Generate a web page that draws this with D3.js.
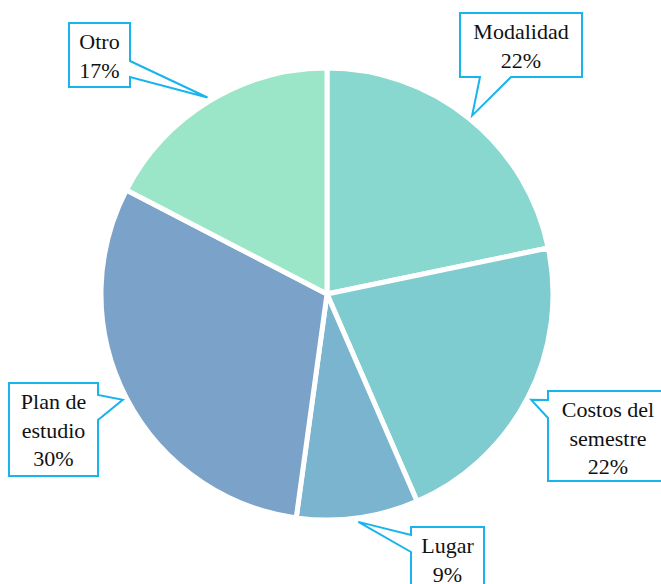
<!DOCTYPE html>
<html>
<head>
<meta charset="utf-8">
<script src="https://cdn.jsdelivr.net/npm/d3@7"></script>
</head>
<body style="margin:0">
<svg id="chart" width="661" height="584"></svg>
<script>
// data
const categories = ["Modalidad", "Costos del semestre", "Lugar", "Plan de estudio", "Otro"];
const counts = [5, 5, 2, 7, 4];
const labelLines = [["Modalidad"], ["Costos del", "semestre"], ["Lugar"], ["Plan de", "estudio"], ["Otro"]];
const colors = ["#88d8cf", "#7ecbd0", "#7bb4cf", "#7ba2c8", "#9be6c8"];

// callout layout: box and which side the pointer leaves from
const callouts = [
  { x: 460, y: 13, w: 122, h: 64, side: "bottom", a: [480, 511] },
  { x: 548, y: 391, w: 120, h: 90, side: "left", a: [400, 418] },
  { x: 411, y: 527, w: 73, h: 70, side: "left", a: [535, 552] },
  { x: 9, y: 383, w: 89, h: 93, side: "right", a: [395, 420] },
  { x: 69, y: 23, w: 61, h: 64, side: "right", a: [61, 77] }
];

const cx = 327, cy = 294, radius = 226;

const svg = d3.select("#chart");

const total = d3.sum(counts);
const pie = d3.pie().sort(null).value(d => d)(counts);

const arc = d3.arc().innerRadius(0).outerRadius(radius);
const tipArc = d3.arc().innerRadius(radius + 4).outerRadius(radius + 4);

const g = svg.append("g").attr("transform", `translate(${cx},${cy})`);

g.selectAll("path")
  .data(pie)
  .join("path")
  .attr("d", arc)
  .attr("fill", (d, i) => colors[i])
  .attr("stroke", "#fff")
  .attr("stroke-width", 5)
  .attr("stroke-linejoin", "round");

// callout shape: rectangle with a notch that points to the slice
function calloutPath(c, tip) {
  const x0 = c.x, y0 = c.y, x1 = c.x + c.w, y1 = c.y + c.h;
  const p = d3.path();
  p.moveTo(x0, y0);
  if (c.side === "bottom") {
    p.lineTo(x1, y0); p.lineTo(x1, y1);
    p.lineTo(c.a[1], y1); p.lineTo(tip[0], tip[1]); p.lineTo(c.a[0], y1);
    p.lineTo(x0, y1);
  } else if (c.side === "right") {
    p.lineTo(x1, y0); p.lineTo(x1, c.a[0]);
    p.lineTo(tip[0], tip[1]); p.lineTo(x1, c.a[1]);
    p.lineTo(x1, y1); p.lineTo(x0, y1);
  } else {
    p.lineTo(x1, y0); p.lineTo(x1, y1); p.lineTo(x0, y1);
    p.lineTo(x0, c.a[1]); p.lineTo(tip[0], tip[1]); p.lineTo(x0, c.a[0]);
  }
  p.closePath();
  return p.toString();
}

svg.append("g")
  .selectAll("path")
  .data(pie)
  .join("path")
  .attr("d", (d, i) => {
    const t = tipArc.centroid(d);
    return calloutPath(callouts[i], [t[0] + cx, t[1] + cy]);
  })
  .attr("fill", "#fff")
  .attr("stroke", "#1ab4ec")
  .attr("stroke-width", 2);

// label lines
pie.forEach((d, i) => {
  const c = callouts[i];
  const lines = labelLines[i].concat([Math.round(d.value / total * 100) + "%"]);
  lines.forEach((l, j) => {
    svg.append("text")
      .attr("x", c.x + c.w / 2)
      .attr("y", c.y + 26 + j * 28.5)
      .attr("text-anchor", "middle")
      .attr("font-family", "Times New Roman, Liberation Serif, serif")
      .style("font-family", '"Times New Roman", "Liberation Serif", serif')
      .style("font-size", "22px")
      .attr("fill", "#111")
      .text(l);
  });
});
</script>
</body>
</html>
